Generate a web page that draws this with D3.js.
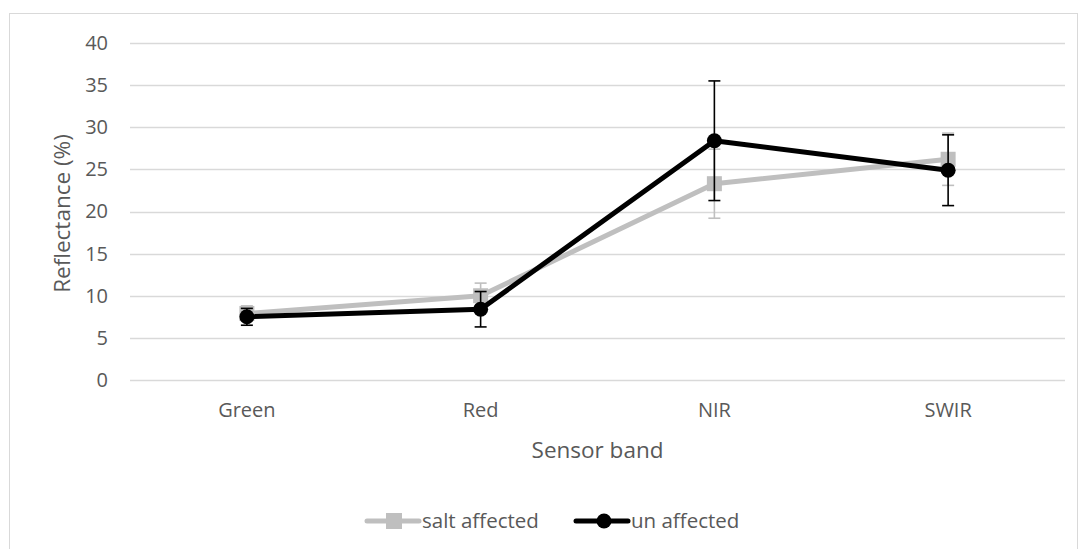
<!DOCTYPE html>
<html>
<head>
<meta charset="utf-8">
<script src="https://cdn.jsdelivr.net/npm/d3@7"></script>
<style>
  body { margin: 0; background: #fff; }
  text { font-family: "Open Sans", sans-serif; fill: #595959; }
</style>
</head>
<body>
<svg id="chart" width="1079" height="549"></svg>
<script>
// chart data
const bands = ["Green", "Red", "NIR", "SWIR"];
const saltValues = [7.9, 10.0, 23.3, 26.2];
const saltErrors = [0.9, 1.5, 4.1, 3.1];
const unValues = [7.5, 8.4, 28.4, 24.9];
const unErrors = [1.0, 2.1, 7.1, 4.2];
const yTicks = [0, 5, 10, 15, 20, 25, 30, 35, 40];

const svg = d3.select("#chart");
const margin = {top: 43, left: 130, right: 14, bottom: 169};
const width = 1079 - margin.left - margin.right;
const height = 549 - margin.top - margin.bottom;

// outer chart border
svg.append("rect")
    .attr("x", 9.5).attr("y", 13.5)
    .attr("width", 1079 - 11).attr("height", 549 - 12)
    .attr("fill", "none").attr("stroke", "#d9d9d9");

const g = svg.append("g")
    .attr("transform", "translate(" + margin.left + "," + margin.top + ")");

const x = d3.scaleBand().domain(bands).range([0, width]);
const y = d3.scaleLinear().domain([0, 40]).range([height, 0]);

// gridlines
g.selectAll(".grid")
    .data(yTicks)
    .enter().append("line")
    .attr("x1", 0).attr("x2", width)
    .attr("y1", d => Math.round(y(d)) + 0.5)
    .attr("y2", d => Math.round(y(d)) + 0.5)
    .attr("stroke", "#d9d9d9").attr("stroke-width", 1.3);

// y axis labels
const yAxis = g.append("g").call(d3.axisLeft(y).tickValues(yTicks).tickSize(0).tickPadding(22));
yAxis.select(".domain").remove();
yAxis.selectAll("text").style("font-size", "20px").attr("fill", "#595959")
    .style("font-family", "Open Sans, sans-serif");

// x axis labels
const xAxis = g.append("g").attr("transform", "translate(0," + height + ")")
    .call(d3.axisBottom(x).tickSize(0).tickPadding(23));
xAxis.select(".domain").remove();
xAxis.selectAll("text").style("font-size", "20px").attr("fill", "#595959")
    .style("font-family", "Open Sans, sans-serif");

// axis titles
svg.append("text")
    .attr("x", margin.left + width / 2).attr("y", 458)
    .attr("text-anchor", "middle")
    .style("font-size", "22.5px")
    .text("Sensor band");
svg.append("text")
    .attr("transform", "translate(70," + (margin.top + height / 2 + 2) + ") rotate(-90)")
    .attr("text-anchor", "middle")
    .style("font-size", "22.5px")
    .text("Reflectance (%)");

const cx = d => x(d) + x.bandwidth() / 2;

function drawErrors(values, errors, color) {
    const eg = g.append("g").attr("stroke", color).attr("stroke-width", 1.6);
    bands.forEach((b, i) => {
        let top = y(values[i] + errors[i]), bottom = y(values[i] - errors[i]);
        eg.append("line").attr("x1", cx(b)).attr("x2", cx(b)).attr("y1", top).attr("y2", bottom);
        eg.append("line").attr("x1", cx(b) - 6).attr("x2", cx(b) + 6).attr("y1", top).attr("y2", top);
        eg.append("line").attr("x1", cx(b) - 6).attr("x2", cx(b) + 6).attr("y1", bottom).attr("y2", bottom);
    });
}

const line = d3.line()
    .x((d, i) => cx(bands[i]))
    .y(d => y(d));

// salt affected series
drawErrors(saltValues, saltErrors, "#bfbfbf");
g.append("path").datum(saltValues)
    .attr("d", line).attr("fill", "none")
    .attr("stroke", "#bfbfbf").attr("stroke-width", 5).attr("stroke-linejoin", "round");
g.selectAll(".salt").data(saltValues).enter().append("rect")
    .attr("x", (d, i) => cx(bands[i]) - 7.5).attr("y", d => y(d) - 7.5)
    .attr("width", 15).attr("height", 15).attr("fill", "#bfbfbf");

// un affected series
drawErrors(unValues, unErrors, "#000");
g.append("path").datum(unValues)
    .attr("d", line).attr("fill", "none")
    .attr("stroke", "#000").attr("stroke-width", 5).attr("stroke-linejoin", "round");
g.selectAll(".un").data(unValues).enter().append("circle")
    .attr("cx", (d, i) => cx(bands[i])).attr("cy", d => y(d))
    .attr("r", 7.5).attr("fill", "#000");

// legend
const legend = svg.append("g").attr("transform", "translate(0,521)");
const items = [
    {name: "salt affected", color: "#bfbfbf", shape: "square", x0: 367},
    {name: "un affected", color: "#000", shape: "circle", x0: 576}
];
items.forEach(it => {
    legend.append("line").attr("x1", it.x0).attr("x2", it.x0 + 52)
        .attr("y1", 0).attr("y2", 0)
        .attr("stroke", it.color).attr("stroke-width", 5).attr("stroke-linecap", "round");
    if (it.shape === "square") {
        legend.append("rect").attr("x", it.x0 + 19).attr("y", -8)
            .attr("width", 16).attr("height", 16).attr("fill", it.color);
    } else {
        legend.append("circle").attr("cx", it.x0 + 28).attr("cy", 0)
            .attr("r", 7.5).attr("fill", it.color);
    }
    legend.append("text").attr("x", it.x0 + 55).attr("y", 7)
        .style("font-size", "20.5px").text(it.name);
});
</script>
</body>
</html>
